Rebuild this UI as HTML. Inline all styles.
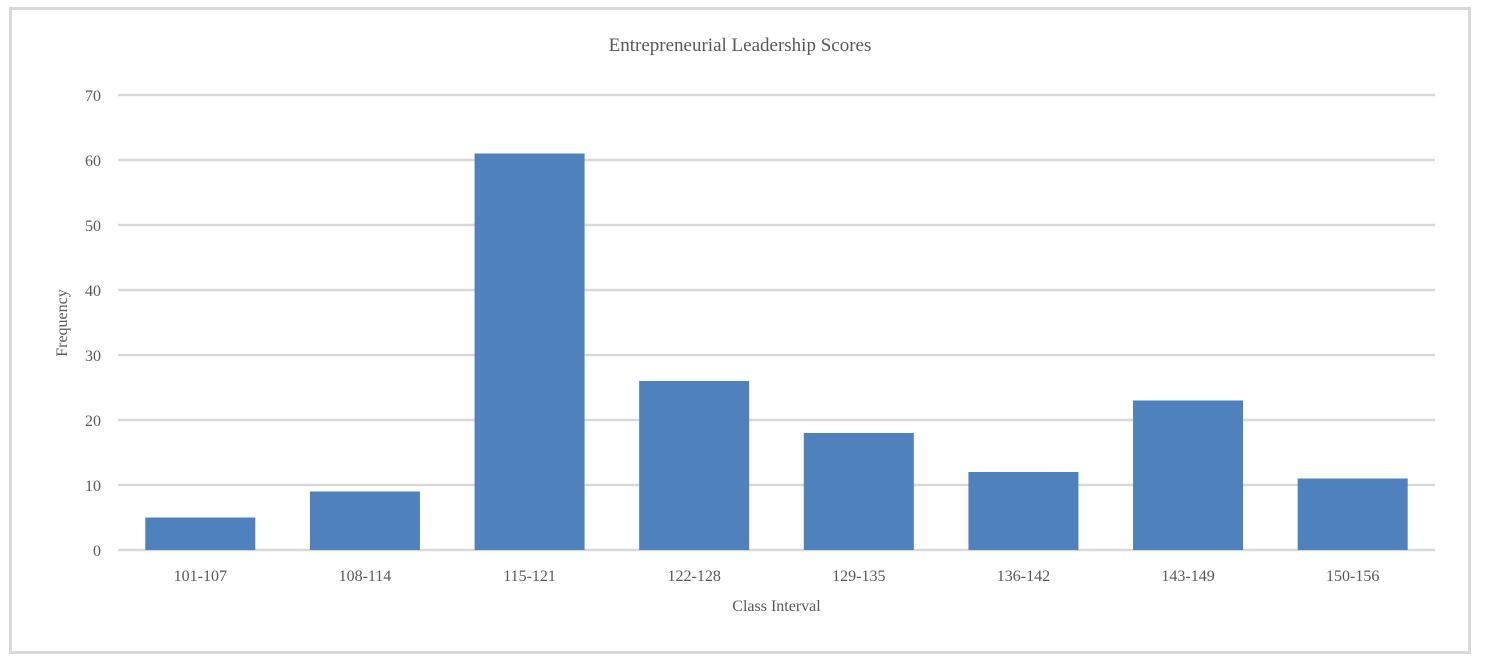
<!DOCTYPE html>
<html><head><meta charset="utf-8"><style>
body{margin:0;background:#fff;width:1489px;height:660px;overflow:hidden}
svg text{font-family:"Liberation Serif",serif;fill:#595959}
</style></head><body>
<svg width="1489" height="660">
<rect x="10.5" y="8.5" width="1459" height="644" fill="#fff" stroke="#d9d9d9" stroke-width="3"/>
<text x="740" y="51" text-anchor="middle" font-size="19">Entrepreneurial Leadership Scores</text>
<g id="grid"></g><g id="bars"></g><g id="xl"></g>
<text x="615" y="611" font-size="16" text-anchor="middle" transform="translate(0,0)" id="xt">Class Interval</text>
<text transform="translate(67,323) rotate(-90)" font-size="16" text-anchor="middle">Frequency</text>
</svg>
<script>
const categories=["101-107","108-114","115-121","122-128","129-135","136-142","143-149","150-156"];
const values=[5,9,61,26,18,12,23,11];
const yTicks=[0,10,20,30,40,50,60,70];
const L=118,R=1435,Y0=550,Y70=95,yMax=70;
const y=v=>Y0-(Y0-Y70)*v/yMax;
const band=(R-L)/categories.length;
const x=i=>L+band*i+band/2;
const NS="http://www.w3.org/2000/svg";
const g=document.getElementById('grid'),b=document.getElementById('bars'),xl=document.getElementById('xl');
document.getElementById('xt').setAttribute('x',(L+R)/2);
yTicks.forEach(t=>{
 const l=document.createElementNS(NS,'line');
 l.setAttribute('x1',L);l.setAttribute('x2',R);l.setAttribute('y1',y(t));l.setAttribute('y2',y(t));
 l.setAttribute('stroke','#d9d9d9');l.setAttribute('stroke-width','2.5');
 
 
 g.appendChild(l);
 const tx=document.createElementNS(NS,'text');
 tx.setAttribute('x',101);tx.setAttribute('y',y(t)+6);tx.setAttribute('text-anchor','end');tx.setAttribute('font-size','16');
 tx.textContent=t;
 
 
 g.appendChild(tx);
});
const bw=110;
values.forEach((v,i)=>{
 const r=document.createElementNS(NS,'rect');
 r.setAttribute('x',x(i)-bw/2);r.setAttribute('width',bw);r.setAttribute('y',y(v));r.setAttribute('height',Y0-y(v));
 r.setAttribute('fill','#4f81bd');
 
 
 b.appendChild(r);
 const tx=document.createElementNS(NS,'text');
 tx.setAttribute('x',x(i));tx.setAttribute('y',581);tx.setAttribute('text-anchor','middle');tx.setAttribute('font-size','16');
 tx.textContent=categories[i];
 
 
 xl.appendChild(tx);
});
</script>
</body></html>
